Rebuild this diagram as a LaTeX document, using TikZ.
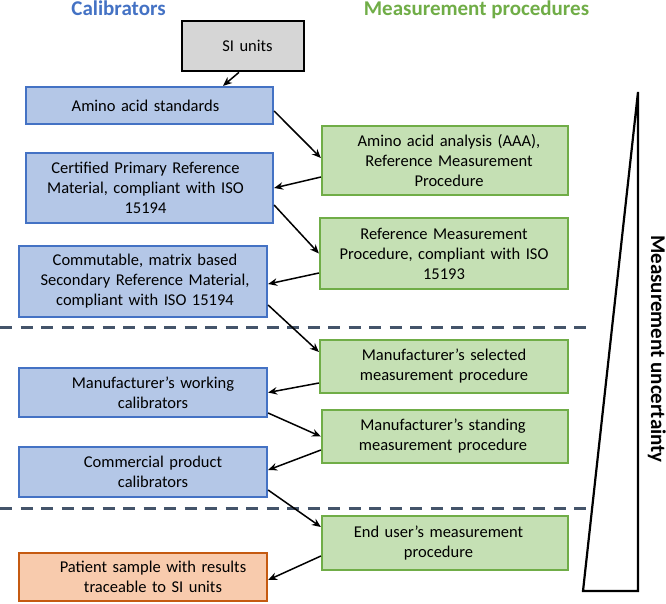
\documentclass[tikz,border=0pt]{standalone}
\usepackage{fontspec}
\setmainfont{Carlito}
\usetikzlibrary{arrows.meta}
\definecolor{calblue}{HTML}{4472C4}
\definecolor{calfill}{HTML}{B4C7E7}
\definecolor{mpgreen}{HTML}{70AD47}
\definecolor{mpfill}{HTML}{C5E0B4}
\definecolor{patline}{HTML}{C55A11}
\definecolor{patfill}{HTML}{F8CBAD}
\definecolor{sifill}{HTML}{D6D6D6}
\definecolor{dashcol}{HTML}{44546A}
\tikzset{
  box/.style={rectangle, inner sep=0pt, align=center, line width=2.2pt,
    font=\fontsize{16.5pt}{20pt}\selectfont, text=black},
  calbox/.style={box, draw=calblue, fill=calfill},
  mpbox/.style={box, draw=mpgreen, fill=mpfill},
  patbox/.style={box, draw=patline, fill=patfill},
  sibox/.style={box, draw=black, fill=sifill, line width=2.6pt},
  conn/.style={line width=1.5pt, -{Stealth[length=9pt,width=7.5pt]}},
  title/.style={font=\fontsize{21pt}{25pt}\selectfont\bfseries, anchor=base},
  sepline/.style={draw=dashcol, line width=3pt, dash pattern=on 12pt off 8.5pt}
}
\begin{document}
\begin{tikzpicture}[x=1pt,y=-1pt]
\useasboundingbox (0,0) rectangle (666,603);
% titles
\node[title, text=calblue] (tcal) at (118.5,15) {Calibrators};
\node[title, text=mpgreen] (tmp) at (476.5,15) {Measurement procedures};
% left column
\node[sibox, text width=122pt, minimum height=50pt] (si) at (243,46) {\hspace*{9pt}SI units};
\node[calbox, text width=247pt, minimum height=37pt] (amino) at (149.5,105.5) {\hspace*{-8pt}Amino acid standards};
\node[calbox, text width=247pt, minimum height=70pt] (cert) at (149.5,188) {\hspace*{-8pt}Certified Primary Reference\\\hspace*{-8pt}Material, compliant with ISO\\\hspace*{-8pt}15194};
\node[calbox, text width=248pt, minimum height=71pt] (comm) at (143,281.5) {\hspace*{4pt}Commutable, matrix based\\\hspace*{4pt}Secondary Reference Material,\\\hspace*{4pt}compliant with ISO 15194};
\node[calbox, text width=248pt, minimum height=49pt] (work) at (143,392.5) {\hspace*{20pt}Manufacturer’s working\\\hspace*{20pt}calibrators};
\node[calbox, text width=248pt, minimum height=50pt] (cpc) at (143,472) {\hspace*{20pt}Commercial product\\\hspace*{20pt}calibrators};
\node[patbox, text width=248pt, minimum height=48pt] (pat) at (143,577) {\hspace*{20pt}Patient sample with results\\\hspace*{20pt}traceable to SI units};
% right column
\node[mpbox, text width=246pt, minimum height=69pt] (aaa) at (445,160.5) {\hspace*{8pt}Amino acid analysis (AAA),\\\hspace*{8pt}Reference Measurement\\\hspace*{8pt}Procedure};
\node[mpbox, text width=248pt, minimum height=71pt] (rmp) at (444,253.5) {Reference Measurement\\Procedure, compliant with ISO\\15193};
\node[mpbox, text width=248pt, minimum height=53pt] (sel) at (444,366.5) {Manufacturer’s selected\\measurement procedure};
\node[mpbox, text width=246pt, minimum height=53pt] (stand) at (445,436.5) {\hspace*{-4pt}Manufacturer’s standing\\\hspace*{-4pt}measurement procedure};
\node[mpbox, text width=246pt, minimum height=54pt] (enduser) at (445,543) {\hspace*{-13pt}End user’s measurement\\\hspace*{-13pt}procedure};
% separators
\draw[sepline] (0,327) -- (588,327);
\draw[sepline] (0,508) -- (588,508);
% uncertainty wedge
\draw[line width=2.2pt, line join=miter] (638,92) -- (638,591) -- (583,591) -- cycle;
\node[title, rotate=-90] (mu) at (651,349) {Measurement uncertainty};
% connectors
\draw[conn] ([xshift=-4pt]si.south) -- ([xshift=73.5pt]amino.north);
\draw[conn] ([yshift=-5.5pt]amino.east) -- ([yshift=2.5pt]aaa.west);
\draw[conn] ([yshift=-16.5pt]aaa.west) -- (cert.east);
\draw[conn] ([yshift=-17pt]cert.east) -- (rmp.west);
\draw[conn] ([yshift=-19.5pt]rmp.west) -- ([yshift=-2.5pt]comm.east);
\draw[conn] ([yshift=-23.5pt]comm.east) -- ([yshift=14.5pt]sel.west);
\draw[conn] ([yshift=-16.5pt]sel.west) -- (work.east);
\draw[conn] ([yshift=-20.5pt]work.east) -- (stand.west);
\draw[conn] ([yshift=-13.5pt]stand.west) -- ([yshift=2pt]cpc.east);
\draw[conn] ([yshift=-18pt]cpc.east) -- ([yshift=16pt]enduser.west);
\draw[conn] ([yshift=-13pt]enduser.west) -- ([yshift=-3pt]pat.east);
\end{tikzpicture}
\end{document}
